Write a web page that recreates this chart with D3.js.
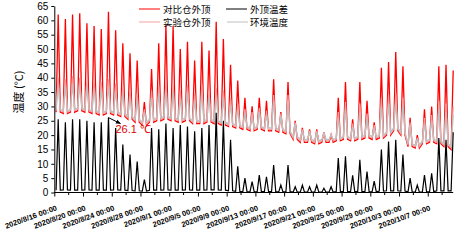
<!DOCTYPE html>
<html><head><meta charset="utf-8">
<script src="https://cdn.jsdelivr.net/npm/d3@7"></script>
<style>body{margin:0;background:#fff} svg{display:block}</style>
</head><body>
<svg id="c" width="454" height="243"></svg>
<script>
// ---- data (one entry per day, starting 2020/8/16) ----
const startYear = 2020, startMonth = 7, startDay = 16;
const seriesNames = ["对比仓外顶", "实验仓外顶", "外顶温差", "环境温度"];
const tickLabels = ["2020/8/16 00:00","2020/8/20 00:00","2020/8/24 00:00","2020/8/28 00:00","2020/9/1 00:00","2020/9/5 00:00","2020/9/9 00:00","2020/9/13 00:00","2020/9/17 00:00","2020/9/21 00:00","2020/9/25 00:00","2020/9/29 00:00","2020/10/3 00:00","2020/10/7 00:00"];
const yTicks = [0,5,10,15,20,25,30,35,40,45,50,55,60,65];

const redPeak = [62,60.5,62,62.5,59,58,57,63,56.5,52, 48.5,46,31.5,43,52,58.5,58,50,52.5,46, 52.5,49.5,59.5,53.5,44.5,39,33,30,33,32, 39.5,28,38.5,25,22.5,22,22,21,20,33, 38.5,25.5,38.5,32,24.5,43.5,45.5,49,44,26, 20,29,30,44,44.5,42.5];
const redLow = [28,27.5,28,28.5,28,27.5,27,27.5,27,26.5, 25.5,24.5,23.5,24.5,25,25.5,25,24.5,25,24, 24,24.5,24,23.5,23,22.5,22,21.5,22,21.5, 21.5,21,20.5,18.5,17.5,17.5,17,17.5,17.5,18, 18.5,18,18.5,19,18.5,19,20,21.5,20,16, 15.5,17,17.5,17,16,15];
const expPeak = [40,39.5,40.5,40,39.5,39,38.5,39.5,38,37, 36,34.5,29,35.5,37,38.5,37.5,35.5,37.5,34.5, 37.5,35.5,36.5,35.5,33,31,29,28,29.5,28.5, 34,27.5,34,24.5,22,21.5,21.5,21,20.5,28, 31.5,24,31,27.5,23.5,33,34,34.5,33,24.5, 19,26,27,32,31,30];
const expLow = [28.5,28,28.5,29,28.5,28,27.5,28,27.5,27, 26,25,24,25,25.5,26,25.5,25,25.5,24.5, 24.5,25,24.5,24,23.5,23,22.5,22,22.5,22, 22,21.5,21,19,18,18,17.5,18,18,18.5, 19,18.5,19,19.5,19,19.5,20.5,22,20.5,16.5, 16,17.5,18,17.5,16.5,15.5];
const grayPeak = [37.5,37,38,37.5,37,36.5,36,37,35.5,34.5, 33.5,32,28,33,34.5,36,35,33,35,32, 35,33,34,33,30.5,29,27.5,26.5,28,27, 32,26.5,32,24,21.5,21,21,20.5,20,26, 29,23,28,25.5,22.5,30,31,31.5,30,23.5, 18.5,24,25,29,28,27];
const grayLow = [29,28.5,29,29.5,29,28.5,28,28.5,28,27.5, 26.5,25.5,24.5,25.5,26,26.5,26,25.5,26,25, 25,25.5,25,24.5,24,23.5,23,22.5,23,22.5, 22.5,22,21.5,19.5,18.5,18.5,18,18.5,18.5,19, 19.5,19,19.5,20,19.5,20,21,22.5,21,17, 16.5,18,18.5,18,17,16];
const blackPeak = [25.5,24.5,25.5,25.5,25,24.5,24.5,26.1,22.5,16.7, 13.2,10.8,4.5,22.5,22,24,22.5,23.5,23,21.3, 22.5,23.5,27.8,25,18.4,9.1,5,3.8,6.1,5.5, 9.6,2.6,9.6,2,2.6,2,2.6,1.5,2,12, 12.6,6,11.4,7.3,4,15,17.8,18.4,13.2,5, 2.6,6.1,6.7,19,18.4,21];
const blackLow = [0.8,0.9,0.8,0.8,0.9,0.8,0.8,0.8,0.9,0.8, 0.7,0.6,0.5,0.8,0.8,0.9,0.8,0.8,0.9,0.8, 0.8,0.9,0.9,0.8,0.6,0.4,0.3,0.2,0.3,0.3, 0.3,0.2,0.3,0.1,0.1,0.1,0.1,0.1,0.1,0.3, 0.4,0.3,0.4,0.3,0.2,0.5,0.6,0.6,0.5,0.2, 0.1,0.2,0.3,0.6,0.6,0.6];
const annotValue = 26.1, annotDay = 7;

// ---- drawing ----
const svg = d3.select("#c");
const dt = (d, h) => new Date(startYear, startMonth, startDay + d, h, 0);
const x = d3.scaleTime().domain([dt(0,0), dt(55,13.5)]).range([54.3, 453.2]);
const y = d3.scaleLinear().domain([0,65]).range([192.5, 6]);

function build(peaks, lows) {
  const pts = [];
  peaks.forEach((p, d) => {
    pts.push([dt(d,6), lows[d]]);
    pts.push([dt(d,13), p]);
    if (d < peaks.length - 1) pts.push([dt(d,20), lows[d]]);
  });
  return pts;
}
const line = d3.line().x(p => x(p[0])).y(p => y(p[1]));
const colors = {red:"#ff0000", exp:"#f4a0a0", black:"#000000", gray:"#c0c0c0"};
const g = svg.append("g");
g.append("path").attr("d", line(build(redPeak, redLow))).attr("fill","none").attr("stroke",colors.red).attr("stroke-width",1.3);
g.append("path").attr("d", line(build(expPeak, expLow))).attr("fill","none").attr("stroke",colors.exp).attr("stroke-width",1.2);
g.append("path").attr("d", line(build(grayPeak, grayLow))).attr("fill","none").attr("stroke",colors.gray).attr("stroke-width",1.3);
g.append("path").attr("d", line(build(blackPeak, blackLow))).attr("fill","none").attr("stroke",colors.black).attr("stroke-width",1.2);

// axes
const majorDates = tickLabels.map((_, i) => dt(i*4, 0));
const minorDates = tickLabels.map((_, i) => dt(i*4+2, 0)).filter(d => d <= x.domain()[1]);
const xAxis = d3.axisBottom(x).tickValues(majorDates).tickSize(4).tickSizeOuter(0).tickFormat((d,i) => tickLabels[i]);
const xg = svg.append("g").attr("transform", `translate(0,${y(0)})`).call(xAxis);
xg.select(".domain").attr("d", `M${x.range()[0]},0H${x.range()[1]}`);
xg.selectAll(".tick text").attr("font-family","Liberation Sans, Arial, sans-serif").attr("font-size","7.5px").attr("font-weight","bold").attr("fill","#000")
  .attr("text-anchor","end").attr("dy",null).attr("y",null)
  .attr("transform","translate(2.7,17.5) rotate(-20)");
xg.selectAll(".minor").data(minorDates).enter().append("line").attr("class","minor")
  .attr("x1", d => x(d)).attr("x2", d => x(d)).attr("y1",0).attr("y2",2.5).attr("stroke","#000");

const yAxis = d3.axisLeft(y).tickValues(yTicks).tickSize(3).tickSizeOuter(0).tickFormat(d3.format("d"));
const yg = svg.append("g").attr("transform", `translate(54.3,0)`).call(yAxis);
yg.selectAll(".tick text").attr("font-family","Liberation Sans, Arial, sans-serif").attr("font-size","10px").attr("fill","#000").attr("x",-6);

svg.append("text").attr("transform","translate(23,92) rotate(-90)").attr("text-anchor","middle")
  .attr("font-family","Noto Sans CJK SC, sans-serif").attr("font-size","11px").text("温度 (°C)");

// legend
const legend = [
  {name: seriesNames[0], c: colors.red, lx: 139, ly: 9, tx: 163},
  {name: seriesNames[2], c: colors.black, lx: 226, ly: 9, tx: 250},
  {name: seriesNames[1], c: colors.exp, lx: 139, ly: 22, tx: 163},
  {name: seriesNames[3], c: colors.gray, lx: 227, ly: 22, tx: 250}
];
legend.forEach(l => {
  svg.append("line").attr("x1", l.lx).attr("x2", l.lx + 21).attr("y1", l.ly).attr("y2", l.ly).attr("stroke", l.c);
  svg.append("text").attr("x", l.tx).attr("y", l.ly + 3.5).attr("font-family","Noto Sans CJK SC, sans-serif")
    .attr("font-size","9.5px").attr("fill","#000").text(l.name);
});

// annotation
const ax = x(dt(annotDay, 13)), ay = y(annotValue);
svg.append("defs").append("marker").attr("id","ah").attr("viewBox","0 0 10 10").attr("refX",9).attr("refY",5)
  .attr("markerWidth",5).attr("markerHeight",5).attr("orient","auto")
  .append("path").attr("d","M0,1L10,5L0,9z").attr("fill","#000");
svg.append("line").attr("x1", ax).attr("y1", ay).attr("x2", ax + 12).attr("y2", ay + 6)
  .attr("stroke","#000").attr("stroke-width",1).attr("marker-end","url(#ah)");
svg.append("text").attr("x", ax + 7).attr("y", ay + 15.5).attr("fill","#e00000")
  .attr("font-family","Liberation Sans, Arial, sans-serif").attr("font-size","11px").text(annotValue + " ℃");
</script>
</body></html>
